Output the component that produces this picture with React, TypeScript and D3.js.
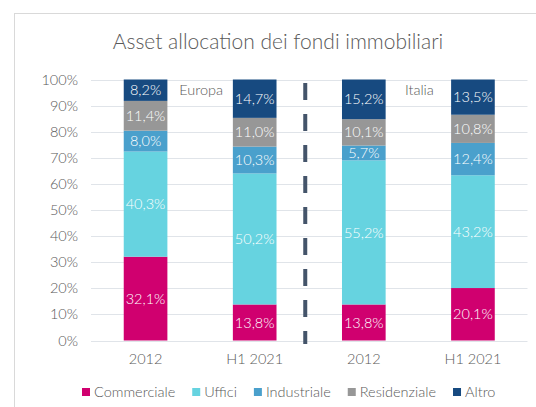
import React, { useRef, useEffect } from 'react';
import * as d3 from 'd3';

const W = 536;
const H = 407;
const titleText = 'Asset allocation dei fondi immobiliari';

// categories (x axis) and the region each one belongs to
const periods = ['2012', 'H1 2021', '2012', 'H1 2021'];
const regions = ['Europa', 'Europa', 'Italia', 'Italia'];

// series, in %, one value per category
const commerciale = [32.1, 13.8, 13.8, 20.1];
const uffici = [40.3, 50.2, 55.2, 43.2];
const industriale = [8.0, 10.3, 5.7, 12.4];
const residenziale = [11.4, 11.0, 10.1, 10.8];
const altro = [8.2, 14.7, 15.2, 13.5];

const seriesNames = ['Commerciale', 'Uffici', 'Industriale', 'Residenziale', 'Altro'];
const seriesValues = [commerciale, uffici, industriale, residenziale, altro];
const seriesColors = ['#d0006f', '#66d3e0', '#4aa0cc', '#979797', '#174a80'];

const yTicks = [0, 10, 20, 30, 40, 50, 60, 70, 80, 90, 100];

const font = 'Lato, "Open Sans", sans-serif';
const textColor = '#595959';

const draw = (element: SVGGElement) => {
    const root = d3.select(element);
    root.selectAll('*').remove();

    const keys = periods.map((p, i) => `${regions[i]}-${p}`);
    const x = d3.scaleBand().domain(keys).range([91, 527.5]).padding(0);
    const y = d3.scaleLinear().domain([0, 100]).range([340.5, 79.5]);
    const barW = x.bandwidth() * 0.4;

    // table for the stack
    const rows = keys.map((k, i) => {
        const row: any = { key: k };
        seriesNames.forEach((s, j) => (row[s] = seriesValues[j][i]));
        return row;
    });
    const stacked = d3.stack().keys(seriesNames)(rows);

    // gridlines
    root.append('g')
        .selectAll('line')
        .data(yTicks)
        .join('line')
        .attr('x1', x.range()[0])
        .attr('x2', x.range()[1])
        .attr('y1', d => Math.round(y(d)) + 0.5)
        .attr('y2', d => Math.round(y(d)) + 0.5)
        .attr('stroke', '#e0e4e9')
        .attr('stroke-width', 1);

    // y labels
    root.append('g')
        .selectAll('text')
        .data(yTicks)
        .join('text')
        .attr('x', 78)
        .attr('y', d => y(d))
        .attr('dy', '0.35em')
        .attr('text-anchor', 'end')
        .attr('font-size', 14.5)
        .attr('fill', textColor)
        .text(d => `${d}%`);

    // bars
    const layers = root.append('g')
        .selectAll('g')
        .data(stacked)
        .join('g')
        .attr('fill', (d, i) => seriesColors[i]);

    layers.selectAll('rect')
        .data(d => d)
        .join('rect')
        .attr('x', (d: any) => x(d.data.key)! + (x.bandwidth() - barW) / 2)
        .attr('width', barW)
        .attr('y', d => y(d[1]))
        .attr('height', d => y(d[0]) - y(d[1]));

    layers.selectAll('text')
        .data(d => d)
        .join('text')
        .attr('x', (d: any) => x(d.data.key)! + x.bandwidth() / 2)
        .attr('y', d => (y(d[0]) + y(d[1])) / 2)
        .attr('dy', '0.35em')
        .attr('text-anchor', 'middle')
        .attr('font-size', 14.5)
        .attr('fill', '#ffffff')
        .text(d => `${(d[1] - d[0]).toFixed(1).replace('.', ',')}%`);

    // x labels
    root.append('g')
        .selectAll('text')
        .data(keys)
        .join('text')
        .attr('x', d => x(d)! + x.bandwidth() / 2)
        .attr('y', 364)
        .attr('text-anchor', 'middle')
        .attr('font-size', 14.5)
        .attr('fill', textColor)
        .text((d, i) => periods[i]);

    // region labels, in the gap between the two bars of each region
    const regionNames = Array.from(new Set(regions));
    root.append('g')
        .selectAll('text')
        .data(regionNames)
        .join('text')
        .attr('x', r => {
            const first = keys[regions.indexOf(r)];
            return x(first)! + x.bandwidth() + 1;
        })
        .attr('y', y(100) + 15)
        .attr('text-anchor', 'middle')
        .attr('font-size', 14.5)
        .attr('fill', textColor)
        .text(r => r);

    // dashed divider between Europa and Italia
    const split = x(keys[regions.indexOf('Italia')])! - 4;
    root.append('line')
        .attr('x1', split)
        .attr('x2', split)
        .attr('y1', 83)
        .attr('y2', 344)
        .attr('stroke', '#44546a')
        .attr('stroke-width', 4)
        .attr('stroke-dasharray', '17 14');

    // legend
    const legend = root.append('g').attr('transform', 'translate(82 392)');
    let cursor = 0;
    seriesNames.forEach((name, i) => {
        const item = legend.append('g').attr('transform', `translate(${cursor} 0)`);
        item.append('rect')
            .attr('x', 0)
            .attr('y', -4)
            .attr('width', 8)
            .attr('height', 8)
            .attr('fill', seriesColors[i]);
        const t = item.append('text')
            .attr('x', 12)
            .attr('dy', '0.35em')
            .attr('font-size', 14.5)
            .attr('fill', textColor)
            .text(name);
        const len = (t.node() as SVGTextElement).getComputedTextLength();
        cursor += 12 + len + 17;
    });
};

const App = () => {
    const containerRef = useRef<SVGGElement>(null);

    useEffect(() => {
        if (containerRef.current) draw(containerRef.current);
    }, []);

    return (
        <svg
            width={W}
            height={H}
            style={{ position: 'absolute', left: 0, top: 0, fontFamily: font, fontWeight: 300 }}
        >
            <rect x={0} y={0} width={W} height={H} fill="#ffffff" />
            <rect x={14.5} y={13.5} width={540} height={420} fill="none" stroke="#d9d9d9" />
            <text x={278} y={49} textAnchor="middle" fontSize={21} fill={textColor}>
                {titleText}
            </text>
            <g ref={containerRef} />
        </svg>
    );
};

export default App;
